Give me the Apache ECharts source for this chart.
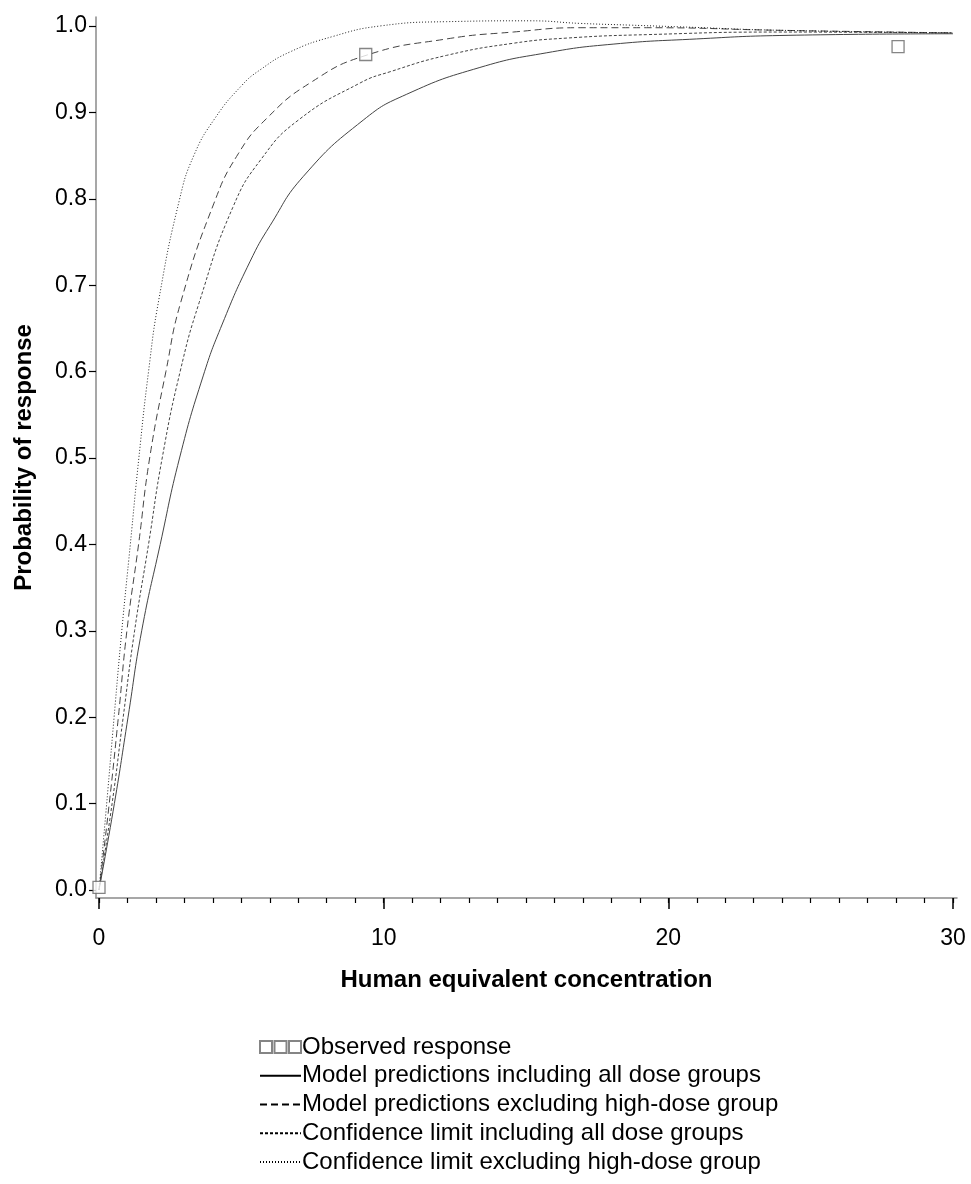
<!DOCTYPE html>
<html>
<head>
<meta charset="utf-8">
<script src="https://cdn.jsdelivr.net/npm/echarts@6/dist/echarts.min.js"></script>
<style>
html,body{margin:0;padding:0;background:#fff;}
#chart{width:971px;height:1184px;}
</style>
</head>
<body>
<div id="chart"></div>
<script>
// ---- data ----
const obsX = [0, 9.37, 28.07];
const obsY = [0.003, 0.967, 0.976];

const allModelX = [0, 0.54, 1.02, 1.50, 2.15, 2.83, 3.66, 4.33, 5.30, 6.01, 7.18, 9.28, 10.81, 13.38, 15.73, 18.06, 20.99, 23.92, 30];
const allModelY = [0, 0.10, 0.20, 0.30, 0.40, 0.50, 0.595, 0.655, 0.727, 0.769, 0.826, 0.891, 0.921, 0.952, 0.969, 0.979, 0.985, 0.989, 0.991];

const exclModelX = [0, 0.36, 0.68, 0.98, 1.39, 1.78, 2.35, 2.87, 4.04, 4.89, 5.89, 7.41, 9.38, 12.21, 14.55, 16.9, 19.24, 23.92, 30];
const exclModelY = [0, 0.10, 0.20, 0.30, 0.40, 0.50, 0.60, 0.680, 0.795, 0.852, 0.893, 0.934, 0.966, 0.985, 0.993, 0.998, 0.998, 0.995, 0.992];

const allCLX = [0, 0.46, 0.85, 1.25, 1.74, 2.22, 2.85, 3.52, 4.70, 5.70, 7.0, 9.17, 10.22, 12.21, 14.55, 16.43, 19.24, 23.92, 30];
const allCLY = [0, 0.10, 0.20, 0.30, 0.40, 0.50, 0.60, 0.680, 0.790, 0.846, 0.891, 0.934, 0.947, 0.966, 0.980, 0.986, 0.990, 0.993, 0.992];

const exclCLX = [0, 0.27, 0.53, 0.80, 1.10, 1.40, 1.74, 2.10, 2.82, 3.33, 4.07, 5.01, 5.65, 6.71, 8.23, 9.87, 12.21, 15.13, 16.9, 18.65, 20.4, 23.92, 30];
const exclCLY = [0, 0.10, 0.20, 0.30, 0.40, 0.50, 0.60, 0.683, 0.798, 0.850, 0.893, 0.931, 0.949, 0.970, 0.988, 1.000, 1.005, 1.006, 1.003, 1.001, 0.999, 0.995, 0.992];

const xMajorTicks = [0, 10, 20, 30];
const xMinorTicks = [0,1,2,3,4,5,6,7,8,9,10,11,12,13,14,15,16,17,18,19,20,21,22,23,24,25,26,27,28,29,30];
const yTicks = [0, 0.1, 0.2, 0.3, 0.4, 0.5, 0.6, 0.7, 0.8, 0.9, 1.0];

const names = [
  'Observed response',
  'Model predictions including all dose groups',
  'Model predictions excluding high-dose group',
  'Confidence limit including all dose groups',
  'Confidence limit excluding high-dose group'
];

function pairs(xs, ys){ return xs.map((x,i)=>[x, ys[i]]); }

const FONT = '"Liberation Sans", Arial, Helvetica, sans-serif';
const XMIN = -0.1054, XMAX = 30.1405, YMIN = -0.00926, YMAX = 1.0104;

const chart = echarts.init(document.getElementById('chart'), null, {renderer:'canvas'});

const lineSeries = (name, data, type, color) => ({
  name, type:'line', data, xAxisIndex:0, yAxisIndex:0,
  symbol:'none', smooth:0.5, z:2,
  lineStyle:{color:color, width:1, type:type},
  itemStyle:{color:color},
  emphasis:{disabled:true}
});

const hiddenSym = {color:'rgba(0,0,0,0)', borderWidth:0, opacity:0};

chart.setOption({
  animation:false,
  backgroundColor:'#fff',
  textStyle:{fontFamily:FONT},
  grid:{left:96, right:14, top:17, bottom:286, containLabel:false},
  xAxis:[
    {
      type:'value', min:XMIN, max:XMAX, gridIndex:0, position:'bottom',
      axisLine:{show:true, onZero:false, lineStyle:{color:'#8a8a8a', width:1.5}},
      axisTick:{show:true, customValues:xMajorTicks, length:11, lineStyle:{color:'#000', width:1.5}},
      axisLabel:{show:true, customValues:xMajorTicks, color:'#000', fontSize:23, fontFamily:FONT, margin:29,
        formatter:v=>String(Math.round(v))},
      splitLine:{show:false},
      name:'Human equivalent concentration', nameLocation:'middle', nameGap:70,
      nameTextStyle:{color:'#000', fontSize:24, fontWeight:'bold', fontFamily:FONT}
    },
    {
      type:'value', min:XMIN, max:XMAX, gridIndex:0, position:'bottom',
      axisLine:{show:false, onZero:false},
      axisTick:{show:true, customValues:xMinorTicks, length:5, lineStyle:{color:'#000', width:1.2}},
      axisLabel:{show:false},
      splitLine:{show:false}
    }
  ],
  yAxis:{
    type:'value', min:YMIN, max:YMAX,
    axisLine:{show:true, onZero:false, lineStyle:{color:'#8a8a8a', width:1.5}},
    axisTick:{show:true, customValues:yTicks, length:7, lineStyle:{color:'#000', width:1.2}},
    axisLabel:{show:true, customValues:yTicks, color:'#000', fontSize:23, fontFamily:FONT, margin:9,
      formatter:v=>v.toFixed(1)},
    splitLine:{show:false},
    name:'Probability of response', nameLocation:'middle', nameGap:60, nameRotate:90,
    nameTextStyle:{color:'#000', fontSize:24, fontWeight:'bold', fontFamily:FONT}
  },
  legend:{
    orient:'vertical', left:254, top:1030,
    itemWidth:41, itemHeight:14, itemGap:4.75,
    selectedMode:false,
    textStyle:{color:'#000', fontSize:24, lineHeight:24, fontFamily:FONT, padding:[0,0,0,-4]},
    data:[
      {name:names[0], icon:'path://M0,1h12v12h-12z M14.5,1h12v12h-12z M29,1h12v12h-12z'},
      {name:names[1], itemStyle:hiddenSym, lineStyle:{color:'#000'}},
      {name:names[2], itemStyle:hiddenSym, lineStyle:{color:'#000'}},
      {name:names[3], itemStyle:hiddenSym, lineStyle:{color:'#000'}},
      {name:names[4], itemStyle:hiddenSym, lineStyle:{color:'#000'}}
    ]
  },
  series:[
    lineSeries(names[1], pairs(allModelX, allModelY), 'solid', '#444'),
    lineSeries(names[2], pairs(exclModelX, exclModelY), [7,4], '#444'),
    lineSeries(names[3], pairs(allCLX, allCLY), [3,2], '#444'),
    lineSeries(names[4], pairs(exclCLX, exclCLY), [1,2], '#222'),
    {
      name:names[0], type:'scatter', data:pairs(obsX, obsY),
      symbol:'rect', symbolSize:12, z:5,
      itemStyle:{color:'#fff', borderColor:'#666', borderWidth:1.3},
      emphasis:{disabled:true}
    }
  ]
});
</script>
</body>
</html>
